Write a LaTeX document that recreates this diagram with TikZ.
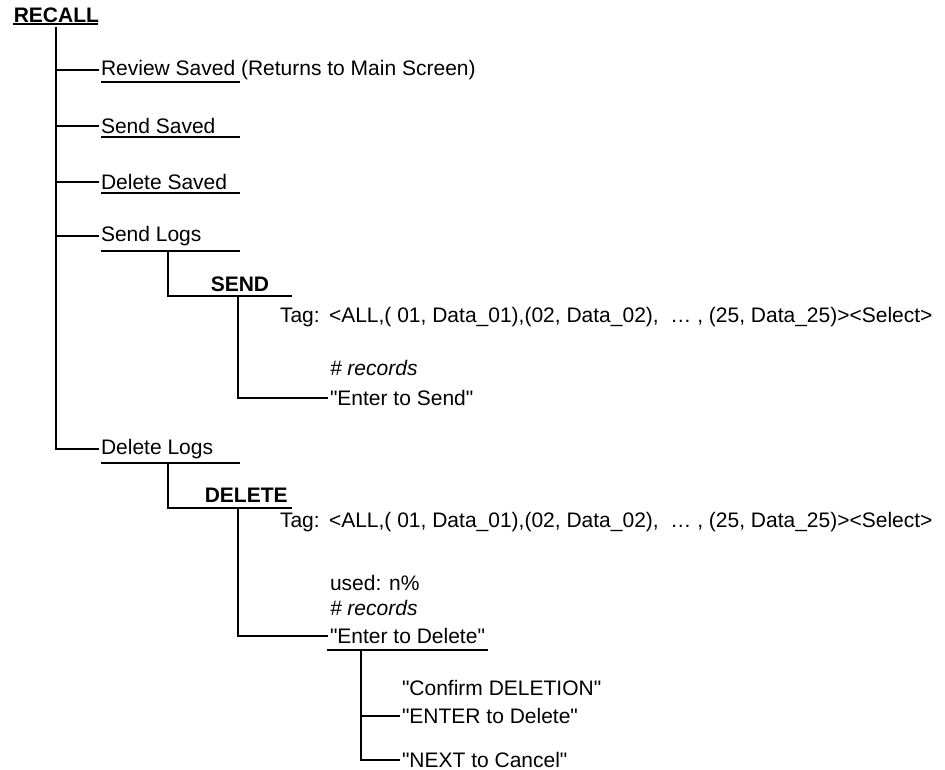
\documentclass[tikz,border=0pt]{standalone}
\usepackage{fontspec}
\setmainfont{Liberation Sans}[Ligatures=TeXOff]
\usetikzlibrary{positioning}

\begin{document}
\begin{tikzpicture}[x=1pt,y=-1pt,line width=1.6pt,
    font=\fontsize{21}{25}\selectfont,
    item/.style={anchor=west,inner sep=0pt,outer sep=2pt},
    head/.style={anchor=west,inner sep=0pt,font=\fontsize{21}{25}\selectfont\bfseries}]
  \useasboundingbox (0,0) rectangle (945,770);

  % top menu
  \node[head] (recall) at (13,15) {RECALL};
  \draw (recall.base west) ++(0,2) -- ++(85,0);
  \coordinate (root) at (56,27);
  \node[item] (review) at (99,70) {Review Saved (Returns to Main Screen)};
  \node[item] (ssaved) at (99,126) {Send Saved};
  \node[item] (dsaved) at (99,182) {Delete Saved};
  \node[item] (slogs) at (99,236) {Send Logs};
  \node[item] (dlogs) at (99,449) {Delete Logs};
  \draw (root) |- (dlogs);
  \foreach \n in {review,ssaved,dsaved,slogs}
    \draw (root |- \n) -- (\n);
  \foreach \n/\d in {review/12,ssaved/11,dsaved/11,slogs/15,dlogs/14}
    \draw (\n.west) ++(2,\d) -- ++(139,0);

  % send logs
  \coordinate (sendfork) at (168,251);
  \coordinate (sendbar) at (292,296);
  \coordinate (sendtrunk) at (238,296);
  \node[head] (send) at (210,284) {SEND};
  \draw (sendfork) |- (sendbar);
  \node[item] (stag) at (278,317) {Tag:\ \,<ALL,( 01, Data\_01),(02, Data\_02),\ \ …\ , (25, Data\_25)><Select>};
  \node[item] (srec) at (328,368) {\itshape\# records};
  \node[item] (sent) at (328,398) {"Enter to Send"};
  \draw (sendtrunk) |- (sent);

  % delete logs
  \coordinate (delfork) at (168,463);
  \coordinate (delbar) at (292,508);
  \coordinate (deltrunk) at (238,508);
  \node[head] (delete) at (204,495) {DELETE};
  \draw (delfork) |- (delbar);
  \node[item] (dtag) at (278,522) {Tag:\ \,<ALL,( 01, Data\_01),(02, Data\_02),\ \ …\ , (25, Data\_25)><Select>};
  \node[item] (dused) at (328,583) {used: n\%};
  \node[item] (drec) at (328,608) {\itshape\# records};
  \node[item] (dent) at (328,636) {"Enter to Delete"};
  \draw (deltrunk) |- (dent);
  \draw (dent.west) ++(-1,14) -- ++(161,0);

  % confirm
  \coordinate (conftrunk) at (361,650);
  \node[item] (conf) at (400,688) {"Confirm DELETION"};
  \node[item] (cent) at (400,716) {"ENTER to Delete"};
  \node[item] (cnext) at (400,760) {"NEXT to Cancel"};
  \draw (conftrunk) |- (cnext);
  \draw (conftrunk |- cent) -- (cent);
\end{tikzpicture}
\end{document}
